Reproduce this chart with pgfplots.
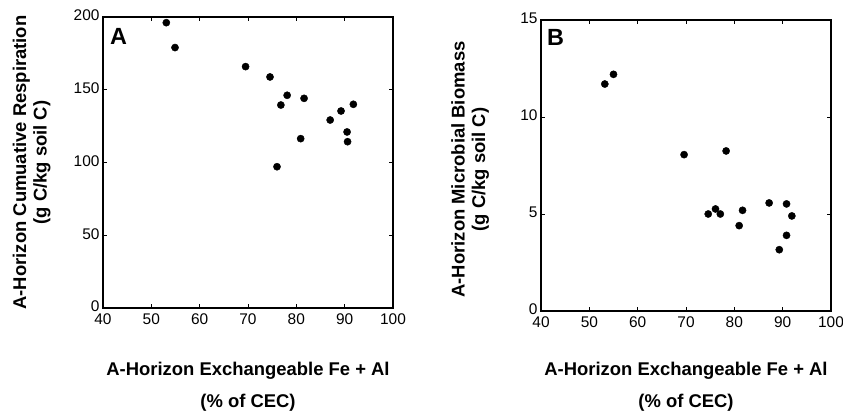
\documentclass[border=0pt]{standalone}
\usepackage{fontspec}
\setmainfont{Liberation Sans}
\usepackage{pgfplots}
\pgfplotsset{compat=1.18}
\pgfplotsset{
  panel/.style={
    scale only axis,
    width=290bp, height=291bp,
    xmin=40, xmax=100,
    xtick={40,50,...,100},
    tick align=inside,
    major tick length=4bp,
    axis line style={line width=1.3bp, black},
    every tick/.style={line width=0.9bp, black},
    tick label style={font=\fontsize{15.5}{17}\selectfont},
    /pgf/number format/assume math mode=true,
    xticklabel style={yshift=-2.5bp},
    yticklabel style={yshift=1.5bp},
    xlabel style={font=\fontsize{18.5}{32.5}\selectfont\bfseries, align=center, anchor=base},
    ylabel style={font=\fontsize{18.5}{20.5}\selectfont\bfseries, align=center, anchor=base},
    clip=false,
  },
  dots/.style={only marks, mark=*, mark size=3.6bp, mark options={fill=black, draw=black}, black}
}
\begin{document}
\begin{tikzpicture}
\begin{axis}[panel,
  at={(103bp,105bp)}, anchor=south west,
  ymin=0, ymax=200, ytick={0,50,...,200},
  xlabel={A-Horizon Exchangeable Fe + Al\\(\% of CEC)},
  xlabel style={at={([yshift=-99.5bp]axis description cs:0.5,0)}},
  ylabel={A-Horizon Cumuative Respiration\\(g C/kg soil C)},
  ylabel style={at={([xshift=-56.5bp]axis description cs:0,0.5)}},
]
\addplot[dots] coordinates {
(53.1,196.1) (54.9,179) (69.5,165.9) (74.55,158.8) (78.1,146.2) (76.8,139.5)
(81.6,144.1) (87.0,129.2) (89.25,135.4) (91.8,140) (90.5,121) (90.6,114.3)
(80.9,116.4) (76.0,97.1)};
\draw[line width=1.3bp] (rel axis cs:0,0) rectangle (rel axis cs:1,1);
\node[anchor=base west, font=\fontsize{23.5}{24}\selectfont\bfseries, inner sep=0pt]
  at ([xshift=7bp,yshift=-28bp]rel axis cs:0,1) {A};
\end{axis}
\begin{axis}[panel,
  at={(541bp,102bp)}, anchor=south west,
  ymin=0, ymax=15, ytick={0,5,10,15},
  xlabel={A-Horizon Exchangeable Fe + Al\\(\% of CEC)},
  xlabel style={at={([yshift=-96.5bp]axis description cs:0.5,0)}},
  ylabel={A-Horizon Microbial Biomass\\(g C/kg soil C)},
  ylabel style={at={([xshift=-56bp,yshift=-4bp]axis description cs:0,0.5)}},
]
\addplot[dots] coordinates {
(53.2,11.7) (55.0,12.2) (69.6,8.06) (78.3,8.25) (74.6,5.0) (76.1,5.26)
(77.1,5.0) (81.0,4.4) (81.7,5.19) (87.2,5.57) (90.8,5.52) (91.9,4.9)
(90.8,3.9) (89.3,3.16)};
\draw[line width=1.3bp] (rel axis cs:0,0) rectangle (rel axis cs:1,1);
\node[anchor=base west, font=\fontsize{23.5}{24}\selectfont\bfseries, inner sep=0pt]
  at ([xshift=6bp,yshift=-26bp]rel axis cs:0,1) {B};
\end{axis}
\pgfresetboundingbox
\path[use as bounding box] (0,0) rectangle (843bp,413bp);
\end{tikzpicture}
\end{document}
